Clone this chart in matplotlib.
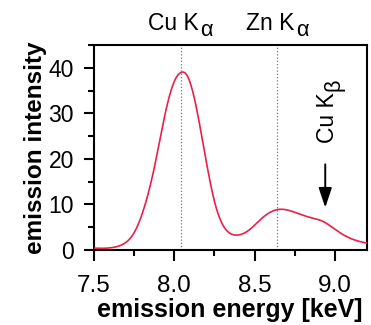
import matplotlib
matplotlib.use("Agg")
import matplotlib.pyplot as plt
import numpy as np
from matplotlib.ticker import MultipleLocator

plt.rcParams['font.family'] = ['Liberation Sans', 'DejaVu Sans']

energy = [7.50, 7.625, 7.6875, 7.75, 7.8125, 7.875, 7.9375, 8.00, 8.0375, 8.083,
          8.125, 8.1875, 8.25, 8.3125, 8.375, 8.47, 8.55, 8.646, 8.74, 8.84,
          8.93, 9.01, 9.115, 9.20]
intensity = [0.4, 0.6, 1.4, 3.8, 9.3, 18.0, 29.0, 37.0, 38.9, 38.1,
             33.3, 21.7, 10.7, 4.9, 3.3, 4.5, 7.1, 8.9, 8.4, 7.2,
             6.2, 4.3, 2.3, 1.5]
line_names = ['Cu K', 'Zn K']
line_subs = ['α', 'α']
line_energies = [8.04, 8.64]
kb_name, kb_sub, kb_energy, kb_label_y = 'Cu K', 'β', 8.955, 30.5
arrow_from, arrow_to = 18.8, 9.3
xtick_vals = [7.5, 8.0, 8.5, 9.0]
xtick_labels = ['7.5', '8.0', '8.5', '9.0']


def natural_spline(x, y, xn):
    x = np.asarray(x, float); y = np.asarray(y, float)
    n = len(x); h = np.diff(x)
    A = np.zeros((n, n)); b = np.zeros(n)
    A[0, 0] = A[-1, -1] = 1
    for i in range(1, n - 1):
        A[i, i-1] = h[i-1]; A[i, i] = 2*(h[i-1] + h[i]); A[i, i+1] = h[i]
        b[i] = 3*((y[i+1]-y[i])/h[i] - (y[i]-y[i-1])/h[i-1])
    c = np.linalg.solve(A, b)
    idx = np.clip(np.searchsorted(x, xn) - 1, 0, n - 2)
    hi = h[idx]; t = xn - x[idx]
    bb = (y[idx+1]-y[idx])/hi - hi*(2*c[idx] + c[idx+1])/3
    d = (c[idx+1] - c[idx])/(3*hi)
    return y[idx] + bb*t + c[idx]*t**2 + d*t**3


W, H = 371, 325
fig = plt.figure(figsize=(W/100, H/100), dpi=100)
ax = fig.add_axes([94/W, 1-250/H, (367-94)/W, (250-45)/H])

xn = np.linspace(energy[0], energy[-1], 500)
ax.plot(xn, natural_spline(energy, intensity, xn), color='#e8204a', lw=1.2, zorder=3)

for e in line_energies:
    ax.axvline(e, color='#777777', ls=(0, (1, 1.6)), lw=0.9, zorder=1)

ax.set_xlim(7.5, 9.2)
ax.set_ylim(0, 45)
ax.xaxis.set_minor_locator(MultipleLocator(0.25))
ax.yaxis.set_major_locator(MultipleLocator(10))
ax.yaxis.set_minor_locator(MultipleLocator(5))
ax.set_xticks(xtick_vals)
ax.set_xticklabels(xtick_labels)
ax.tick_params(which='both', direction='out', width=1.5)
ax.tick_params(axis='x', which='major', length=8, pad=10, labelsize=17.5)
ax.tick_params(axis='x', which='minor', length=4.5)
ax.tick_params(axis='y', which='major', length=7.5, pad=7, labelsize=16.5)
ax.tick_params(axis='y', which='minor', length=4)
for s in ax.spines.values():
    s.set_linewidth(1.5)

# axis labels placed by baseline (pixels)
fig.text(230/W, 1-316.5/H, 'emission energy [keV]', fontsize=18, fontweight='bold',
         ha='center', va='baseline')
fig.text(42/W, 1-148/H, 'emission intensity', fontsize=17.5, fontweight='bold',
         ha='center', va='baseline', rotation=90, rotation_mode='anchor')

renderer = fig.canvas.get_renderer()


def sub_label(xc_px, base_px, name, sub, size, vertical=False):
    """Draw name + lowered subscript centred on xc_px along the reading direction."""
    rot = 90 if vertical else 0
    t1 = fig.text(0, 0, name, fontsize=size, rotation=rot, rotation_mode='anchor',
                  ha='left', va='baseline')
    t2 = fig.text(0, 0, sub, fontsize=size*0.95, rotation=rot, rotation_mode='anchor',
                  ha='left', va='baseline')
    bb1 = t1.get_window_extent(renderer); bb2 = t2.get_window_extent(renderer)
    gap = 1.5
    drop = 5.5
    if not vertical:
        w1, w2 = bb1.width, bb2.width
        start = xc_px - (w1 + gap + w2)/2
        t1.set_position((start/W, 1 - base_px/H))
        t2.set_position(((start + w1 + gap)/W, 1 - (base_px + drop)/H))
    else:
        h1, h2 = bb1.height, bb2.height
        start = xc_px + (h1 + gap + h2)/2
        t1.set_position((base_px/W, 1 - start/H))
        t2.set_position(((base_px + drop)/W, 1 - (start - h1 - gap)/H))


for name, sub, e in zip(line_names, line_subs, line_energies):
    xc = ax.transData.transform((e, 0))[0]
    sub_label(xc, 30.5, name, sub, 16.5)

xk, yk = ax.transData.transform((kb_energy, kb_label_y))
sub_label(H - yk, 333.5, kb_name, kb_sub, 16.5, vertical=True)

ax.annotate('', xy=(8.94, arrow_to), xytext=(8.94, arrow_from),
            arrowprops=dict(arrowstyle='-|>,head_length=0.6,head_width=0.2',
                            color='black', lw=1.4, mutation_scale=20,
                            shrinkA=0, shrinkB=0))

fig.savefig('out.png', dpi=100)
